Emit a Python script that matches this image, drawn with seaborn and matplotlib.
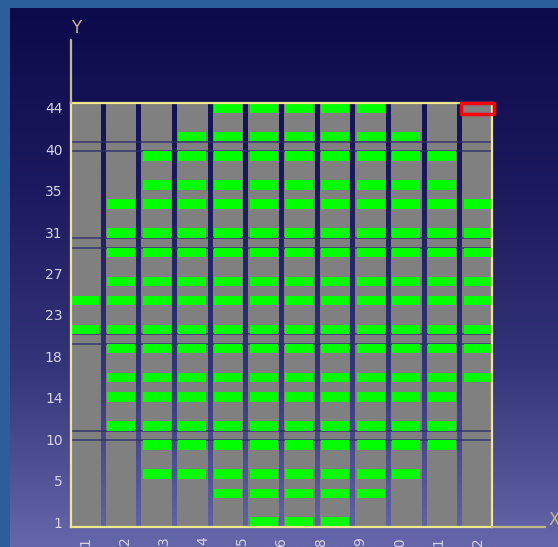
import numpy as np
import pandas as pd
import matplotlib
matplotlib.use("Agg")
import matplotlib.pyplot as plt
from matplotlib.colors import LinearSegmentedColormap
from matplotlib.patches import Rectangle
from matplotlib.lines import Line2D
import seaborn as sns

# ---------------- data ----------------
columns = list(range(1, 13))
n_rows = 44
cell_rows = [44, 41, 39, 36, 34, 31, 29, 26, 24, 21, 19, 16, 14, 11, 9, 6, 4, 1]
first_col = [5, 4, 3, 3, 2, 2, 2, 2, 1, 1, 2, 2, 2, 2, 3, 3, 5, 6]
last_col = [9, 10, 11, 11, 12, 12, 12, 12, 12, 12, 12, 12, 11, 11, 11, 10, 9, 8]
boundary_rows = [10, 20, 30, 40]
selected_col = 12
selected_row = 44
x_tick_labels = ["1", "2", "3", "4", "5", "6", "8", "9", "10", "11", "12"]
y_tick_labels = ["1", "5", "10", "14", "18", "23", "27", "31", "35", "40", "44"]

# ---------------- figure ----------------
sns.set_theme(style="white")
plt.rcParams["font.family"] = ["DejaVu Sans"]

W, H = 558, 547
fig = plt.figure(figsize=(W / 100, H / 100), dpi=100)
fig.patch.set_facecolor("#2a5f9c")

# background: vertical gradient panel inside the blue border
bg = fig.add_axes([0, 0, 1, 1], zorder=-10)
bg.axis("off")
grad = LinearSegmentedColormap.from_list("g", ["#0c0a4a", "#1c1a5e", "#34347a", "#6666aa"])
bg.imshow(np.linspace(0, 1, 256).reshape(-1, 1), cmap=grad,
          extent=(10, W, H, 8), aspect="auto", zorder=0)
bg.set_xlim(0, W)
bg.set_ylim(H, 0)

# main axes
ax = fig.add_axes([71 / W, 1 - 527 / H, 421 / W, 424 / H])
ax.set_facecolor("none")

# gray columns
col_df = pd.DataFrame({"column": columns, "extent": [n_rows + 0.5] * len(columns)})
sns.barplot(data=col_df, x="column", y="extent", native_scale=True, width=0.86,
            color="#808080", saturation=1, errorbar=None, linewidth=0, ax=ax, zorder=1)

# row boundary lines
for r in boundary_rows:
    for off in (-0.5, 0.5):
        ax.axhline(r + off, color="#2c2c6c", lw=1.3, alpha=0.75, zorder=2)

# green cells
cells = pd.DataFrame(
    [(c, r) for r, a, b in zip(cell_rows, first_col, last_col) for c in range(a, b + 1)],
    columns=["column", "row"])
ax.bar(cells["column"], 0.98, bottom=cells["row"] - 0.49, width=0.79,
       color="#00ff00", linewidth=0, zorder=3)

# selected cell outline
ax.add_patch(Rectangle((selected_col - 0.47, selected_row - 0.6), 0.94, 1.1,
                       fill=False, edgecolor="#ff0000", lw=2.5, zorder=6,
                       clip_on=False, joinstyle="round"))

ax.set_xlim(0.6, 12.4)
ax.set_ylim(0.5, 44.5)
ax.set_xlabel("")
ax.set_ylabel("")
ax.set_xticks(np.linspace(1, 12, len(x_tick_labels)))
ax.set_xticklabels(x_tick_labels, rotation=90)
ax.set_yticks(np.linspace(1, n_rows, len(y_tick_labels)))
ax.set_yticklabels(y_tick_labels)
ax.tick_params(axis="both", length=0, colors="#d4d4e6", labelsize=10)
ax.tick_params(axis="x", pad=7)
ax.tick_params(axis="y", pad=6)
ax.grid(False)
for s in ax.spines.values():
    s.set_visible(True)
    s.set_color("#f0e68c")
    s.set_linewidth(1.6)
    s.set_zorder(5)

# axis extension lines and labels
axis_col = "#c2ba8e"
fig.add_artist(Line2D([71 / W, 71 / W], [1 - 103 / H, 1 - 40 / H], color=axis_col, lw=1.6))
fig.add_artist(Line2D([492 / W, 545 / W], [1 - 527 / H, 1 - 527 / H], color=axis_col, lw=1.6))
fig.text(76 / W, 1 - 28 / H, "Y", ha="center", va="center", color=axis_col, fontsize=12)
fig.text(554 / W, 1 - 520 / H, "X", ha="center", va="center", color=axis_col, fontsize=12)

fig.savefig("out.png", dpi=100, facecolor=fig.get_facecolor())
